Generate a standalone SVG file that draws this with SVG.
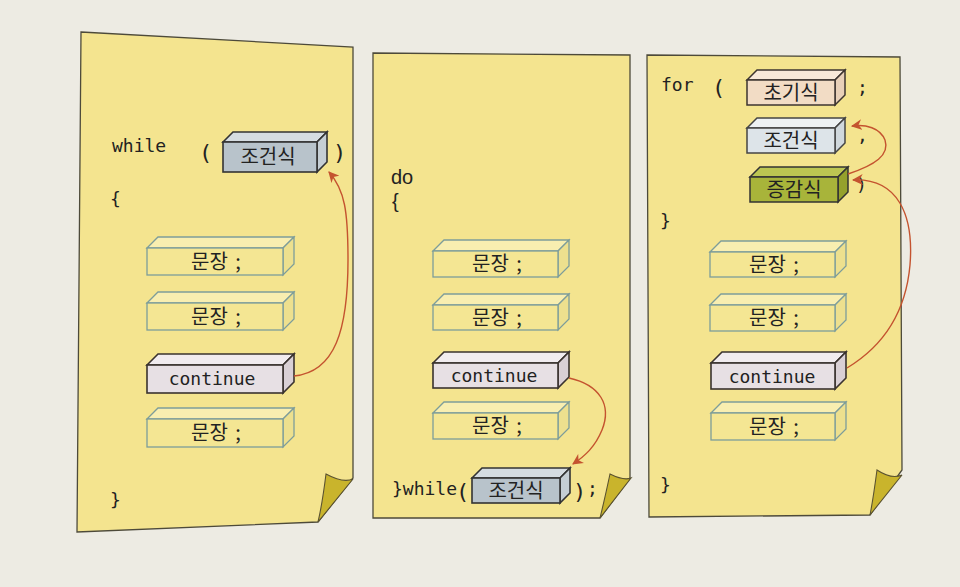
<svg xmlns="http://www.w3.org/2000/svg" width="960" height="587" viewBox="0 0 960 587">
<style>
.page{fill:#f4e48f;stroke:#4d4a3a;stroke-width:1.3}
.curl{fill:#c9b42c;stroke:#5a5230;stroke-width:1.1}
.code{font-family:"DejaVu Sans Mono","Liberation Mono",monospace;font-size:18px;fill:#222}
.par{font-family:"DejaVu Sans Mono","Liberation Mono",monospace;font-size:22px;fill:#222}
.sans{font-family:"Liberation Sans","Noto Sans",sans-serif;font-size:20px;fill:#222}
.kr{font-family:"Noto Sans CJK KR","Noto Sans",sans-serif;font-size:20px;fill:#222;text-anchor:middle}
.mono{font-family:"DejaVu Sans Mono","Liberation Mono",monospace;font-size:18px;fill:#222;text-anchor:middle}
.st .f{fill:#f4e693;stroke:#7d9d9a;stroke-width:1.3}
.st .t{fill:#f8eeb0;stroke:#7d9d9a;stroke-width:1.3}
.st .s{fill:#ede08e;stroke:#7d9d9a;stroke-width:1.3}
.cn .f{fill:#e7e0e4;stroke:#3a332f;stroke-width:1.6}
.cn .t{fill:#f1ecef;stroke:#3a332f;stroke-width:1.6}
.cn .s{fill:#d9d0d5;stroke:#3a332f;stroke-width:1.6}
.cd .f{fill:#b8c3cb;stroke:#333;stroke-width:1.6}
.cd .t{fill:#d5dce1;stroke:#333;stroke-width:1.6}
.cd .s{fill:#c5ced4;stroke:#333;stroke-width:1.6}
.cl .f{fill:#dde4e9;stroke:#444;stroke-width:1.5}
.cl .t{fill:#edf1f3;stroke:#444;stroke-width:1.5}
.cl .s{fill:#d0d8dd;stroke:#444;stroke-width:1.5}
.in .f{fill:#f2dcc5;stroke:#3d3530;stroke-width:1.5}
.in .t{fill:#f8e9da;stroke:#3d3530;stroke-width:1.5}
.in .s{fill:#e8d0b8;stroke:#3d3530;stroke-width:1.5}
.ic .f{fill:#a8b43a;stroke:#333;stroke-width:1.5}
.ic .t{fill:#bcc652;stroke:#333;stroke-width:1.5}
.ic .s{fill:#95a12c;stroke:#333;stroke-width:1.5}
.arr{fill:none;stroke:#c4532f;stroke-width:1.4;marker-end:url(#ah)}
</style>
<defs>
<marker id="ah" viewBox="0 0 10 10" refX="9" refY="5" markerWidth="11" markerHeight="11" markerUnits="userSpaceOnUse" orient="auto">
<path d="M0,0 L10,5 L0,10 L3,5 Z" fill="#c4532f"/>
</marker>
</defs>
<rect x="0" y="0" width="960" height="587" fill="#edebe3"/>

<g id="page-while">
<path class="page" d="M81,32 L353,47 L353,478 L318,522 L77,532 Z"/>
<path class="curl" d="M318,522 C322,505 324,490 326,474 C337,480 346,482 353,479 Z"/>
<text class="code" x="112" y="152">while</text>
<text class="par" x="199" y="160">(</text>
<text class="par" x="333" y="160">)</text>
<text class="code" x="110" y="205">{</text>
<text class="code" x="110" y="506">}</text>
</g>
<g id="w-cond" class="cd">
<path class="t" d="M223,142 L233,132 L327,132 L317,142 Z"/><path class="s" d="M317,142 L327,132 L327,162 L317,172 Z"/><rect class="f" x="223" y="142" width="94" height="30"/>
<text class="kr" x="268" y="164">조건식</text>
</g>
<g id="w-s1" class="st">
<path class="t" d="M147,248 L158,237 L294,237 L283,248 Z"/><path class="s" d="M283,248 L294,237 L294,264 L283,275 Z"/><rect class="f" x="147" y="248" width="136" height="27"/>
<text class="kr" x="216" y="269">문장 <tspan dx="3">;</tspan></text>
</g>
<g id="w-s2" class="st">
<path class="t" d="M147,303 L158,292 L294,292 L283,303 Z"/><path class="s" d="M283,303 L294,292 L294,319 L283,330 Z"/><rect class="f" x="147" y="303" width="136" height="27"/>
<text class="kr" x="216" y="324">문장 <tspan dx="3">;</tspan></text>
</g>
<g id="w-cont" class="cn">
<path class="t" d="M147,365 L158,354 L294,354 L283,365 Z"/><path class="s" d="M283,365 L294,354 L294,382 L283,393 Z"/><rect class="f" x="147" y="365" width="136" height="28"/>
<text class="mono" x="212" y="385">continue</text>
</g>
<g id="w-s3" class="st">
<path class="t" d="M147,419 L158,408 L294,408 L283,419 Z"/><path class="s" d="M283,419 L294,408 L294,436 L283,447 Z"/><rect class="f" x="147" y="419" width="136" height="28"/>
<text class="kr" x="216" y="440">문장 <tspan dx="3">;</tspan></text>
</g>

<g id="page-do">
<path class="page" d="M373,53 L630,55 L630,478 L600,518 L373,518 Z"/>
<path class="curl" d="M600,518 C604,502 607,488 610,474 C618,478 626,480 631,478 Z"/>
<text class="sans" x="391" y="184">do</text>
<text class="sans" x="392" y="208">{</text>
<text class="code" x="392" y="495">}while</text>
<text class="par" x="456" y="499">(</text>
<text class="par" x="573" y="499">)</text>
<text class="code" x="587" y="495">;</text>
</g>
<g id="d-s1" class="st">
<path class="t" d="M433,251 L444,240 L569,240 L558,251 Z"/><path class="s" d="M558,251 L569,240 L569,266 L558,277 Z"/><rect class="f" x="433" y="251" width="125" height="26"/>
<text class="kr" x="497" y="271">문장 <tspan dx="3">;</tspan></text>
</g>
<g id="d-s2" class="st">
<path class="t" d="M433,305 L444,294 L569,294 L558,305 Z"/><path class="s" d="M558,305 L569,294 L569,319 L558,330 Z"/><rect class="f" x="433" y="305" width="125" height="25"/>
<text class="kr" x="497" y="325">문장 <tspan dx="3">;</tspan></text>
</g>
<g id="d-cont" class="cn">
<path class="t" d="M433,363 L444,352 L569,352 L558,363 Z"/><path class="s" d="M558,363 L569,352 L569,377 L558,388 Z"/><rect class="f" x="433" y="363" width="125" height="25"/>
<text class="mono" x="494" y="382">continue</text>
</g>
<g id="d-s3" class="st">
<path class="t" d="M433,413 L444,402 L569,402 L558,413 Z"/><path class="s" d="M558,413 L569,402 L569,428 L558,439 Z"/><rect class="f" x="433" y="413" width="125" height="26"/>
<text class="kr" x="497" y="433">문장 <tspan dx="3">;</tspan></text>
</g>
<g id="d-cond" class="cd">
<path class="t" d="M472,478 L482,468 L570,468 L560,478 Z"/><path class="s" d="M560,478 L570,468 L570,493 L560,503 Z"/><rect class="f" x="472" y="478" width="88" height="25"/>
<text class="kr" x="516" y="498">조건식</text>
</g>

<g id="page-for">
<path class="page" d="M647,55 L900,57 L902,470 L870,515 L649,517 Z"/>
<path class="curl" d="M870,515 C873,500 875,485 877,470 C886,476 895,478 902,475 Z"/>
<text class="code" x="661" y="91">for</text>
<text class="par" x="712" y="95">(</text>
<text class="code" x="857" y="94">;</text>
<text class="code" x="857" y="142">,</text>
<text class="code" x="856" y="191">)</text>
<text class="code" x="660" y="227">}</text>
<text class="code" x="660" y="491">}</text>
</g>
<g id="f-init" class="in">
<path class="t" d="M747,80 L757,70 L845,70 L835,80 Z"/><path class="s" d="M835,80 L845,70 L845,95 L835,105 Z"/><rect class="f" x="747" y="80" width="88" height="25"/>
<text class="kr" x="791" y="100">초기식</text>
</g>
<g id="f-cond" class="cl">
<path class="t" d="M747,128 L757,118 L845,118 L835,128 Z"/><path class="s" d="M835,128 L845,118 L845,143 L835,153 Z"/><rect class="f" x="747" y="128" width="88" height="25"/>
<text class="kr" x="791" y="148">조건식</text>
</g>
<g id="f-inc" class="ic">
<path class="t" d="M750,177 L760,167 L848,167 L838,177 Z"/><path class="s" d="M838,177 L848,167 L848,192 L838,202 Z"/><rect class="f" x="750" y="177" width="88" height="25"/>
<text class="kr" x="794" y="197">증감식</text>
</g>
<g id="f-s1" class="st">
<path class="t" d="M710,252 L721,241 L846,241 L835,252 Z"/><path class="s" d="M835,252 L846,241 L846,266 L835,277 Z"/><rect class="f" x="710" y="252" width="125" height="25"/>
<text class="kr" x="774" y="272">문장 <tspan dx="3">;</tspan></text>
</g>
<g id="f-s2" class="st">
<path class="t" d="M710,305 L721,294 L846,294 L835,305 Z"/><path class="s" d="M835,305 L846,294 L846,320 L835,331 Z"/><rect class="f" x="710" y="305" width="125" height="26"/>
<text class="kr" x="774" y="325">문장 <tspan dx="3">;</tspan></text>
</g>
<g id="f-cont" class="cn">
<path class="t" d="M711,363 L722,352 L846,352 L835,363 Z"/><path class="s" d="M835,363 L846,352 L846,378 L835,389 Z"/><rect class="f" x="711" y="363" width="124" height="26"/>
<text class="mono" x="772" y="383">continue</text>
</g>
<g id="f-s3" class="st">
<path class="t" d="M711,413 L722,402 L846,402 L835,413 Z"/><path class="s" d="M835,413 L846,402 L846,429 L835,440 Z"/><rect class="f" x="711" y="413" width="124" height="27"/>
<text class="kr" x="774" y="434">문장 <tspan dx="3">;</tspan></text>
</g>

<g id="connectors">
<path class="arr" d="M294,376 C335,372 348,330 348,260 C348,212 345,190 329,172"/>
<path class="arr" d="M569,378 C600,385 612,405 602,430 C595,447 585,456 573,464"/>
<path class="arr" d="M848,174 C875,165 890,155 885,140 C880,128 866,124 852,126"/>
<path class="arr" d="M847,368 C885,345 906,310 910,265 C914,215 898,178 853,180"/>
</g>
</svg>
